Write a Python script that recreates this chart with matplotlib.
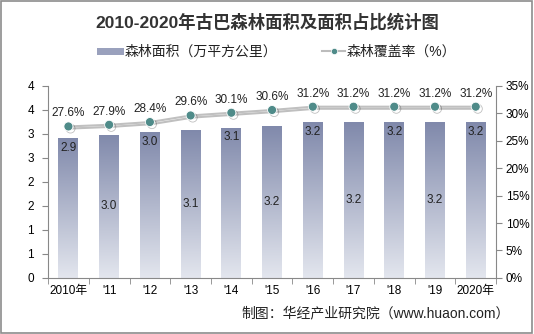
import numpy as np
import matplotlib
matplotlib.use("Agg")
import matplotlib.pyplot as plt
from matplotlib.patches import Rectangle
from matplotlib.ticker import FixedLocator, FuncFormatter
import matplotlib.patheffects as pe

plt.rcParams['font.family'] = ['Liberation Sans', 'Noto Sans CJK SC', 'DejaVu Sans']

years = ["2010年", "'11", "'12", "'13", "'14", "'15", "'16", "'17", "'18", "'19", "2020年"]
area = [2.92, 2.98, 3.03, 3.08, 3.13, 3.17, 3.24, 3.24, 3.24, 3.24, 3.24]
area_labels = ["2.9", "3.0", "3.0", "3.1", "3.1", "3.2", "3.2", "3.2", "3.2", "3.2", "3.2"]
cover = [27.6, 27.9, 28.4, 29.6, 30.1, 30.6, 31.2, 31.2, 31.2, 31.2, 31.2]

fig = plt.figure(figsize=(5.34, 3.34), dpi=100)
fig.patch.set_facecolor("white")
fig.add_artist(Rectangle((0.002, 0.003), 0.995, 0.994, transform=fig.transFigure,
                         fill=False, edgecolor="#8c8c8c", lw=1.2))

ax = fig.add_axes([0.09, 0.168, 0.839, 0.575])
x = np.arange(len(years))
w = 0.49

# gradient bars
grad = np.linspace(0, 1, 256).reshape(-1, 1)
cmap = matplotlib.colors.LinearSegmentedColormap.from_list("g", ["#e3e6ee", "#8089ab"])
bars = ax.bar(x, area, width=w, color="none", edgecolor="none", zorder=2)
for b in bars:
    x0 = b.get_x()
    im = ax.imshow(grad, cmap=cmap, aspect="auto", origin="lower",
                   extent=[x0, x0 + b.get_width(), 0, b.get_height()], zorder=2)
    im.set_clip_path(b)

for i, (v, lab) in enumerate(zip(area, area_labels)):
    if i % 2 == 0:
        ax.text(i, v - 0.08, lab, ha="center", va="top", fontsize=8.5, color="#222222", zorder=5)
    else:
        ax.text(i, v / 2, lab, ha="center", va="center", fontsize=8.5, color="#222222", zorder=5)

ax.set_xlim(-0.5, len(years) - 0.5)
ax.set_ylim(0, 4)
ax.yaxis.set_major_locator(FixedLocator(np.arange(0, 4.01, 0.5)))
ax.yaxis.set_major_formatter(FuncFormatter(lambda v, p: "%d" % int(v + 0.5)))
ax.set_xticks(x)
ax.set_xticklabels(years)
ax.xaxis.set_minor_locator(FixedLocator(np.arange(-0.5, len(years), 1)))
ax.tick_params(axis="x", which="major", length=0, pad=5, labelsize=8.5)
ax.tick_params(axis="x", which="minor", length=4, color="#888888")
ax.tick_params(axis="y", length=4, color="#888888", labelsize=8.5, pad=6)
for s in ["top", "right"]:
    ax.spines[s].set_visible(False)
for s in ["left", "bottom"]:
    ax.spines[s].set_color("#888888")

ax2 = ax.twinx()
ax2.set_ylim(0, 35)
ax2.set_yticks(np.arange(0, 36, 5))
ax2.yaxis.set_major_formatter(FuncFormatter(lambda v, p: "%d%%" % v))
ax2.tick_params(axis="y", length=4, color="#888888", labelsize=8.5, pad=3)
for s in ["top", "left", "bottom"]:
    ax2.spines[s].set_visible(False)
ax2.spines["right"].set_color("#888888")
ax2.plot(x, cover, color="#c0c0c0", lw=1.5, marker="o", markersize=6.5,
         markerfacecolor="#4f8b89", markeredgecolor="white", markeredgewidth=0.6,
         path_effects=[pe.SimpleLineShadow(offset=(1.5, -1.5), alpha=0.25), pe.Normal()],
         zorder=4)
for i, v in enumerate(cover):
    ax2.text(i, v + 1.3, "%.1f%%" % v, ha="center", va="bottom", fontsize=8.5, color="#222222")

fig.text(0.5, 0.934, "2010-2020年古巴森林面积及面积占比统计图", ha="center", va="center",
         fontsize=12.5, fontweight="bold", color="#333333")

# legend
fig.add_artist(Rectangle((0.182, 0.834), 0.05, 0.022, transform=fig.transFigure,
                         facecolor="#9aa1bd", edgecolor="none"))
fig.text(0.233, 0.844, "森林面积（万平方公里）", ha="left", va="center", fontsize=10, color="#222222")
fig.add_artist(plt.Line2D([0.603, 0.647], [0.846, 0.846], transform=fig.transFigure,
                          color="#bcbcbc", lw=1.5))
fig.add_artist(plt.Line2D([0.625], [0.846], transform=fig.transFigure, marker="o",
                          markersize=4.5, color="#4f8b89", markeredgecolor="white",
                          markeredgewidth=0.5))
fig.text(0.649, 0.844, "森林覆盖率（%）", ha="left", va="center", fontsize=10, color="#222222")

fig.text(0.955, 0.062, "制图：华经产业研究院（www.huaon.com）", ha="right", va="center",
         fontsize=10, color="#222222")

fig.savefig("out.png", dpi=100)
